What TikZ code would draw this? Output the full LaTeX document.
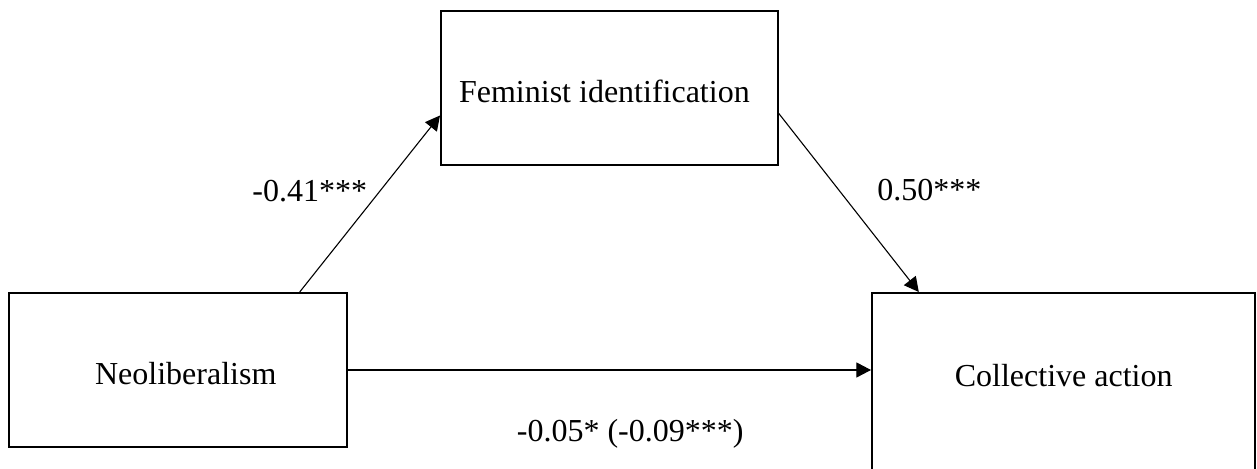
\documentclass[tikz,border=0pt]{standalone}
\usepackage{fontspec}
\setmainfont{Liberation Serif}
\usetikzlibrary{arrows.meta}
\tikzset{
  varbox/.style={draw, line width=1pt, inner sep=0pt, anchor=north west, text height=46pt, text depth=31pt},
  effect/.style={-{Triangle[length=7.3pt, width=7.5pt]}, line width=0.55pt},
  coef/.style={inner sep=0pt}
}
\begin{document}
\begin{tikzpicture}[x=0.5pt, y=-0.5pt, font=\fontsize{16pt}{19pt}\selectfont]
\useasboundingbox (0,0) rectangle (1257,469);
% Mediation model: predictor, mediator, outcome
\node[varbox, minimum width=168.75pt] (neo) at (8,292) {\hspace*{8pt}Neoliberalism};
\node[varbox, minimum width=168.4pt] (fem) at (440,10) {Feminist identification\hspace*{5pt}};
\node[varbox, minimum width=191.65pt, text height=47pt, text depth=60pt] (col) at (871,292) {Collective action};

% Paths with coefficients
\draw[effect] ([xshift=-23.9pt]neo.north east) -- ([yshift=-13.75pt]fem.west) node[coef, pos=0.57, left=6pt] {-0.41***};
\draw[effect] ([yshift=-12.75pt]fem.east) -- ([xshift=23.9pt]col.north west) node[coef, pos=0.43, right=18.9pt] {0.50***};
\draw[effect] (neo.east) -- (neo.east -| col.west) node[coef, pos=0.54, below=24.5pt] {-0.05* (-0.09***)};
\end{tikzpicture}
\end{document}
